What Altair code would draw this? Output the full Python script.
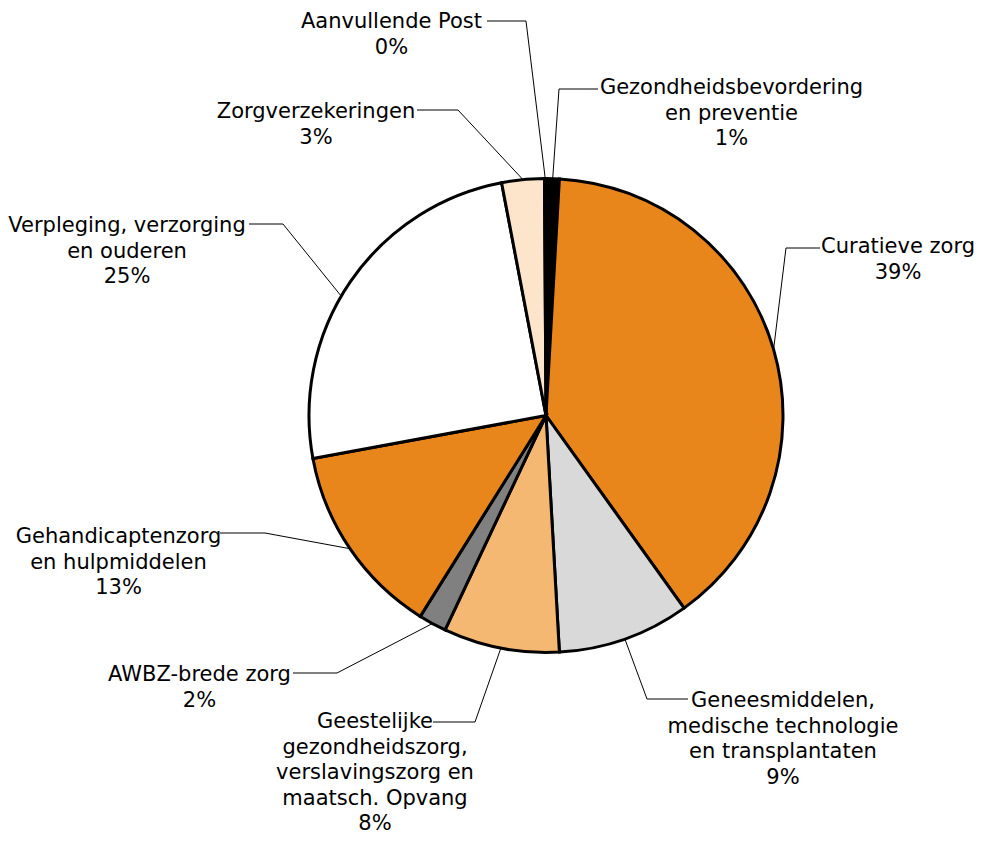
import math
import altair as alt
import pandas as pd

# ---------------- data ----------------
categories = [
    "Gezondheidsbevordering en preventie",
    "Curatieve zorg",
    "Geneesmiddelen, medische technologie en transplantaten",
    "Geestelijke gezondheidszorg, verslavingszorg en maatsch. Opvang",
    "AWBZ-brede zorg",
    "Gehandicaptenzorg en hulpmiddelen",
    "Verpleging, verzorging en ouderen",
    "Zorgverzekeringen",
    "Aanvullende Post",
]
shares = [0.9, 39.2, 9.0, 7.9, 1.9, 13.2, 24.9, 2.9, 0.1]
pct_labels = ["1%", "39%", "9%", "8%", "2%", "13%", "25%", "3%", "0%"]
label_lines = [
    ["Gezondheidsbevordering", "en preventie"],
    ["Curatieve zorg"],
    ["Geneesmiddelen,", "medische technologie", "en transplantaten"],
    ["Geestelijke", "gezondheidszorg,", "verslavingszorg en", "maatsch. Opvang"],
    ["AWBZ-brede zorg"],
    ["Gehandicaptenzorg", "en hulpmiddelen"],
    ["Verpleging, verzorging", "en ouderen"],
    ["Zorgverzekeringen"],
    ["Aanvullende Post"],
]

# ---------------- styles / layout ----------------
colors = ["#000000", "#E9861B", "#D9D9D9", "#F5B872", "#808080",
          "#E9861B", "#FFFFFF", "#FDE5CB", "#FFFFFF"]
OFF = 8  # page margin
CX, CY, R = 546 - OFF, 415.5 - OFF, 237
label_x = [731.5, 898, 783, 375, 199.5, 118.5, 127, 316, 391.5]
label_y = [94, 253, 707, 728, 681, 543, 232, 118, 28]
elbow = [(559, 89), (786, 248), (647, 699), (475, 722), (337, 673),
         (265, 533), (283, 224), (458, 110), (526, 21)]
line_end = [(598, 89), (820, 248), (688, 699), (433, 722), (293, 673),
            (220, 533), (249, 224), (417, 110), (487, 21)]
anchor_shift = [0, 0, 0, 0, 0, 0, -1.15, 0, 0]
FONT = "DejaVu Sans"

# ---------------- tables ----------------
pie_df = pd.DataFrame({"cat": categories, "value": shares, "idx": list(range(len(categories)))})

total = sum(shares)
rows = []
cum = 0.0
for i, v in enumerate(shares):
    mid = (cum + v / 2 + anchor_shift[i]) / total * 2 * math.pi
    cum += v
    sx = CX + R * math.sin(mid)
    sy = CY - R * math.cos(mid)
    pts = [(sx, sy), (elbow[i][0] - OFF, elbow[i][1] - OFF), (line_end[i][0] - OFF, line_end[i][1] - OFF)]
    for k, (px, py) in enumerate(pts):
        rows.append({"cat": categories[i], "pt": k, "x": px, "y": py})
lead_df = pd.DataFrame(rows)

text_df = pd.DataFrame({
    "cat": categories,
    "txt": ["\n".join(label_lines[i] + [pct_labels[i]]) for i in range(len(categories))],
    "x": [v - OFF for v in label_x],
    "y": [v - OFF for v in label_y],
})

pie = alt.Chart(pie_df).mark_arc(outerRadius=R, stroke="black", strokeWidth=3).encode(
    theta=alt.Theta("value:Q", stack=True),
    color=alt.Color("cat:N", scale=alt.Scale(domain=categories, range=colors), legend=None),
    order=alt.Order("idx:Q", sort="ascending"),
    x=alt.value(CX),
    y=alt.value(CY),
)

leaders = alt.Chart(lead_df).mark_line(color="black", strokeWidth=1).encode(
    x=alt.X("x:Q", scale=None, axis=None),
    y=alt.Y("y:Q", scale=None, axis=None),
    detail="cat:N",
    order="pt:Q",
)

labels = alt.Chart(text_df).mark_text(
    font=FONT, fontSize=21, lineHeight=25.5, align="center", baseline="alphabetic",
    lineBreak="\n", color="black",
).encode(
    x=alt.X("x:Q", scale=None, axis=None),
    y=alt.Y("y:Q", scale=None, axis=None),
    text="txt:N",
)

chart = alt.layer(pie, leaders, labels).properties(
    width=967, height=828,
    autosize=alt.AutoSizeParams(type="none"),
    padding=0,
    background="white",
).configure_view(stroke=None)

chart.save("out.html", embed_options={"renderer": "svg", "actions": False})
